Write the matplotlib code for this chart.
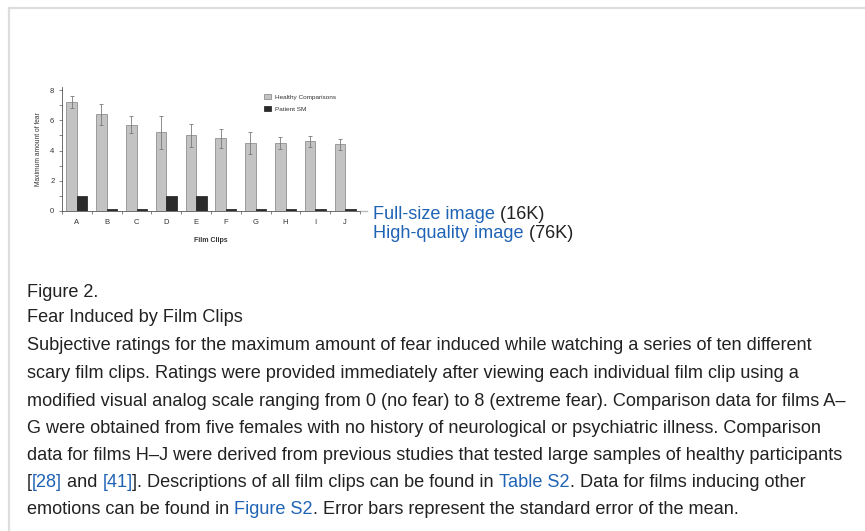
import matplotlib
matplotlib.use('Agg')
import matplotlib.pyplot as plt
from matplotlib.patches import Patch
import numpy as np

# data
clips = ["A", "B", "C", "D", "E", "F", "G", "H", "I", "J"]
healthy = [7.2, 6.4, 5.7, 5.2, 5.0, 4.8, 4.5, 4.5, 4.6, 4.4]
healthy_sem = [0.4, 0.7, 0.55, 1.1, 0.77, 0.62, 0.7, 0.39, 0.37, 0.38]
patient_sm = [1.0, 0.15, 0.15, 1.0, 1.0, 0.15, 0.15, 0.15, 0.15, 0.15]

caption_lines = [
    [("Figure 2.", None)],
    [("Fear Induced by Film Clips", None)],
    [("Subjective ratings for the maximum amount of fear induced while watching a series of ten different", None)],
    [("scary film clips. Ratings were provided immediately after viewing each individual film clip using a", None)],
    [("modified visual analog scale ranging from 0 (no fear) to 8 (extreme fear). Comparison data for films A\u2013", None)],
    [("G were obtained from five females with no history of neurological or psychiatric illness. Comparison", None)],
    [("data for films H\u2013J were derived from previous studies that tested large samples of healthy participants", None)],
    [("[", None), ("[28]", "link"), (" and ", None), ("[41]", "link"), ("]. Descriptions of all film clips can be found in ", None),
     ("Table S2", "link"), (". Data for films inducing other", None)],
    [("emotions can be found in ", None), ("Figure S2", "link"), (". Error bars represent the standard error of the mean.", None)],
]
link_lines = [
    [("Full-size image", "link"), (" (16K)", None)],
    [("High-quality image", "link"), (" (76K)", None)],
]

W, H = 865, 531
LINK = '#1f63b5'
TEXT = '#222222'
FS = 13.1

plt.rcParams['font.family'] = ['Liberation Sans', 'DejaVu Sans']

fig = plt.figure(figsize=(W / 100, H / 100), dpi=100)
fig.patch.set_facecolor('white')


def write_line(pieces, x0, y_base):
    # draw a run of text pieces one after another on one baseline (pixels from top-left)
    x_px = x0
    for s, kind in pieces:
        col = LINK if kind == 'link' else TEXT
        t = fig.text(x_px / W, 1 - y_base / H, s, color=col, fontsize=FS, va='baseline')
        fig.canvas.draw()
        x_px = t.get_window_extent().x1


# page frame (top and left border)
fig.add_artist(plt.Line2D([9 / W, 1.0], [1 - 8 / H, 1 - 8 / H], color='#dddddd', lw=1.6))
fig.add_artist(plt.Line2D([9 / W, 9 / W], [0, 1 - 8 / H], color='#dddddd', lw=1.6))

# chart axes, pixel box: x 62..360, y 87..211
ax = fig.add_axes([62 / W, 1 - 211 / H, 298 / W, 124 / H])
x = np.arange(len(clips))
w = 0.35
ax.bar(x - w / 2, healthy, w, color='#c3c3c3', edgecolor='#808080', lw=0.5,
       yerr=healthy_sem, ecolor='#7a7a7a', capsize=1.5,
       error_kw=dict(elinewidth=0.6, capthick=0.6), zorder=2)
ax.bar(x + w / 2, patient_sm, w, color='#2b2b2b', edgecolor='#1a1a1a', lw=0.5, zorder=2)

ax.set_xlim(-0.5, 9.43)
ax.set_ylim(0, 8.2)
for s in ['top', 'right']:
    ax.spines[s].set_visible(False)
for s in ['left', 'bottom']:
    ax.spines[s].set_color('#555555')
    ax.spines[s].set_linewidth(0.6)

ax.set_xticks(x)
ax.set_xticklabels(clips, fontsize=5.5, color='#333333')
ax.set_xticks(np.arange(-0.5, 9.6, 1), minor=True)
ax.tick_params(axis='x', which='major', length=0, pad=6)
ax.tick_params(axis='x', which='minor', length=2.5, width=0.5, color='#555555', direction='out')
ax.set_yticks([0, 2, 4, 6, 8])
ax.set_yticks([1, 3, 5, 7], minor=True)
ax.tick_params(axis='y', which='both', length=2.5, width=0.5, color='#555555', labelsize=5.5,
               labelcolor='#333333', pad=3)
ax.set_ylabel('Maximum amount of fear', fontsize=4.8, color='#333333', labelpad=6)
ax.set_xlabel('Film Clips', fontsize=5, fontweight='bold', color='#333333', labelpad=8)

fig.legend(handles=[Patch(facecolor='#c3c3c3', edgecolor='#808080', lw=0.5, label='Healthy Comparisons'),
                    Patch(facecolor='#2b2b2b', edgecolor='#1a1a1a', lw=0.5, label='Patient SM')],
           loc='upper left', bbox_to_anchor=(258 / W, 1 - 88 / H), frameon=False,
           fontsize=4.6, handlelength=1.2, handleheight=1.0, handletextpad=0.5,
           labelspacing=0.9, labelcolor='#333333')

# little arrow icon and links beside the chart
fig.add_artist(plt.Line2D([361 / W, 367 / W], [1 - 211 / H, 1 - 211 / H], color='#bbbbbb', lw=1))
write_line(link_lines[0], 373, 219)
write_line(link_lines[1], 373, 238)

# caption
baselines = [297, 322, 350, 378, 406, 433, 460, 487, 514]
for line, yb in zip(caption_lines, baselines):
    write_line(line, 27, yb)

fig.savefig('out.png', dpi=100)
